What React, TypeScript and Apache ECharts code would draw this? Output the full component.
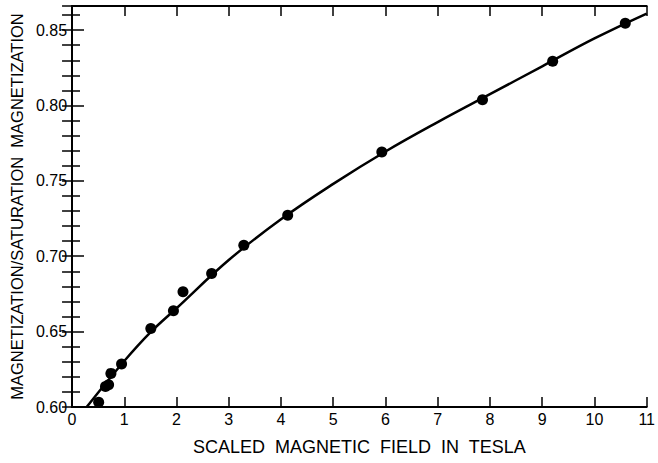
import React, { useEffect, useRef } from "react";
import * as echarts from "echarts";

// measured data points (field in tesla, M/Ms)
const pointX = [0.51, 0.64, 0.7, 0.744, 0.948, 1.508, 1.941, 2.124, 2.672, 3.288, 4.128, 5.93, 7.857, 9.2, 10.59];
const pointY = [0.6031, 0.6136, 0.6147, 0.6223, 0.6285, 0.6521, 0.6638, 0.6764, 0.6885, 0.7073, 0.7272, 0.7691, 0.8038, 0.8293, 0.8545];

// fitted curve
const curveX = [0.28, 1, 1.5, 2, 3, 4, 5, 6, 7, 8, 9, 10, 11];
const curveY = [0.6, 0.6305, 0.6495, 0.6655, 0.6975, 0.7245, 0.748, 0.7695, 0.789, 0.8075, 0.826, 0.8445, 0.861];

const xTicks = [0, 1, 2, 3, 4, 5, 6, 7, 8, 9, 10, 11];
const yTickLabels = ["0.60", "0.65", "0.70", "0.75", "0.80", "0.85"];

const FONT = "'Liberation Sans', Arial, sans-serif";

export default function App() {
  const ref = useRef<HTMLDivElement>(null);
  useEffect(() => {
    if (!ref.current) return;
    const chart = echarts.init(ref.current, undefined, { renderer: "svg" });
    const axisLine = { show: true, lineStyle: { color: "#000", width: 2 } };
    chart.setOption({
      animation: false,
      backgroundColor: "#fff",
      textStyle: { fontFamily: FONT },
      grid: { left: 72, right: 11, top: 6, bottom: 56 },
      xAxis: [
        {
          type: "value",
          min: xTicks[0],
          max: xTicks[xTicks.length - 1],
          interval: 1,
          axisLine,
          axisTick: { show: true, inside: true, length: 10, lineStyle: { color: "#000", width: 1.5 } },
          axisLabel: { color: "#000", fontSize: 16, margin: 4, fontFamily: FONT },
          splitLine: { show: false },
          name: "SCALED  MAGNETIC  FIELD  IN  TESLA",
          nameLocation: "middle",
          nameGap: 31,
          nameTextStyle: { color: "#000", fontSize: 18, fontFamily: FONT },
        },
        {
          type: "value",
          position: "top",
          min: xTicks[0],
          max: xTicks[xTicks.length - 1],
          interval: 1,
          axisLine,
          axisTick: { show: true, inside: true, length: 10, lineStyle: { color: "#000", width: 1.5 } },
          axisLabel: { show: false },
          splitLine: { show: false },
        },
      ],
      yAxis: [
        {
          type: "value",
          min: 0.6,
          max: 0.866,
          interval: 0.05,
          axisLine,
          axisTick: { show: true, inside: true, length: 12, lineStyle: { color: "#000", width: 1.5 } },
          minorTick: { show: true, splitNumber: 5, length: 8, lineStyle: { color: "#000", width: 1.5 } },
          axisLabel: {
            color: "#000",
            fontSize: 16,
            margin: 5,
            fontFamily: FONT,
            showMaxLabel: false,
            formatter: (v: number) => {
              const s = v.toFixed(2);
              return yTickLabels.includes(s) && Math.abs(v - Number(s)) < 1e-6 ? s : "";
            },
          },
          splitLine: { show: false },
          minorSplitLine: { show: false },
          name: "MAGNETIZATION/SATURATION  MAGNETIZATION",
          nameLocation: "middle",
          nameGap: 42,
          nameTextStyle: { color: "#000", fontSize: 16.5, fontFamily: FONT },
        },
        {
          type: "value",
          position: "right",
          min: 0.6,
          max: 0.866,
          interval: 0.05,
          axisLine,
          axisTick: { show: true, inside: true, length: 10, lineStyle: { color: "#000", width: 1.5 } },
          minorTick: { show: true, splitNumber: 5, length: 10, lineStyle: { color: "#000", width: 1.5 } },
          axisLabel: { show: false },
          splitLine: { show: false },
        },
      ],
      series: [
        {
          type: "line",
          data: curveX.map((x, i) => [x, curveY[i]]),
          smooth: 0.4,
          symbol: "none",
          lineStyle: { color: "#000", width: 2.5 },
          clip: true,
          z: 2,
        },
        {
          type: "scatter",
          data: pointX.map((x, i) => [x, pointY[i]]),
          symbol: "circle",
          symbolSize: 11,
          itemStyle: { color: "#000", opacity: 1 },
          z: 3,
        },
      ],
    });
    return () => chart.dispose();
  }, []);
  return <div ref={ref} style={{ width: 658, height: 463, position: "absolute", left: 0, top: 0 }} />;
}
